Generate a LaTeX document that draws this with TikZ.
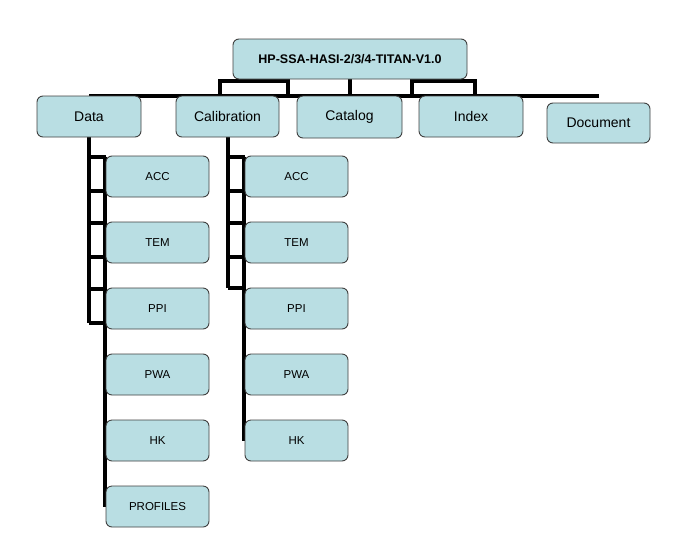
\documentclass[tikz,border=0pt]{standalone}
\usepackage{fontspec}
\setmainfont{Liberation Sans}
\usetikzlibrary{calc,backgrounds}
\definecolor{boxfill}{RGB}{185,222,227}
\definecolor{boxline}{RGB}{64,64,64}
\tikzset{
  chartbox/.style={rectangle,rounded corners=6pt,draw=boxline,line width=0.9pt,fill=boxfill,inner sep=0pt},
  rootbox/.style={chartbox,minimum width=234pt,minimum height=40pt,font=\fontsize{12.5}{14}\selectfont\bfseries},
  midbox/.style={chartbox,minimum width=104pt,minimum height=41pt,font=\fontsize{14}{16}\selectfont},
  leafbox/.style={chartbox,minimum width=103pt,minimum height=41pt,font=\fontsize{11.5}{13}\selectfont},
  link/.style={line width=4pt},
}

\begin{document}
\begin{tikzpicture}[x=1pt,y=-1pt]
\useasboundingbox (0,0) rectangle (690,541);
        % top level
\node[rootbox] (root) at (350,59) {HP-SSA-HASI-2/3/4-TITAN-V1.0};
        % second level
\node[midbox] (data) at (89,116.5) {Data};
\node[midbox,minimum width=103pt] (calib) at (227.5,116.5) {Calibration};
\node[midbox,minimum width=105pt,minimum height=42pt] (catalog) at (349.5,117) {Catalog};
\node[midbox] (index) at (471,116.5) {Index};
\node[midbox,minimum width=103pt,minimum height=40pt] (document) at (598.5,123) {Document};
        % leaves
\foreach \n/\t [count=\i from 0] in {acc/ACC,tem/TEM,ppi/PPI,pwa/PWA,hk/HK,prof/PROFILES}
  \node[leafbox] (d\n) at (157.5,176.5+66*\i) {\t};
\foreach \n/\t [count=\i from 0] in {acc/ACC,tem/TEM,ppi/PPI,pwa/PWA,hk/HK}
  \node[leafbox] (c\n) at (296.5,176.5+66*\i) {\t};

\begin{scope}[on background layer]
        % root to second level
\draw[link] (root.south) -- (root.south |- data.north);
\draw[link] ($(root.south |- data.north)+(-130,0)$) -- ($(root.south)+(-130,2)$) -- ($(root.south)+(-62,2)$) -- ($(root.south |- data.north)+(-62,0)$);
\draw[link] ($(root.south |- data.north)+(62,0)$) -- ($(root.south)+(62,2)$) -- ($(root.south)+(125,2)$) -- ($(root.south |- data.north)+(125,0)$);
\draw[link] (data.north) -- (data.north -| document.north);
        % Data ladder
\draw[link] (data.south) -- ($(dppi.south -| data.south)+(0,-6)$);
\foreach \n in {dacc,dtem,dppi} {
  \draw[link] ($(\n.north west -| data.south)+(0,1)$) -- ($(\n.north west)+(0,1)$);
  \draw[link] ($(\n.south west -| data.south)+(0,-6)$) -- ($(\n.south west)+(0,-6)$);
}
\draw[link] ($(dacc.north west)+(-1,1)$) -- ($(dprof.west)+(-1,0)$);
        % Calibration ladder
\draw[link] (calib.south) -- (cppi.north west -| calib.south);
\foreach \n in {cacc,ctem} {
  \draw[link] ($(\n.north west -| calib.south)+(0,1)$) -- ($(\n.north west)+(0,1)$);
  \draw[link] ($(\n.south west -| calib.south)+(0,-6)$) -- ($(\n.south west)+(0,-6)$);
}
\draw[link] (cppi.north west -| calib.south) -- (cppi.north west);
\draw[link] ($(cacc.north west)+(-1,1)$) -- ($(chk.west)+(-1,0)$);
\end{scope}
\end{tikzpicture}
\end{document}
